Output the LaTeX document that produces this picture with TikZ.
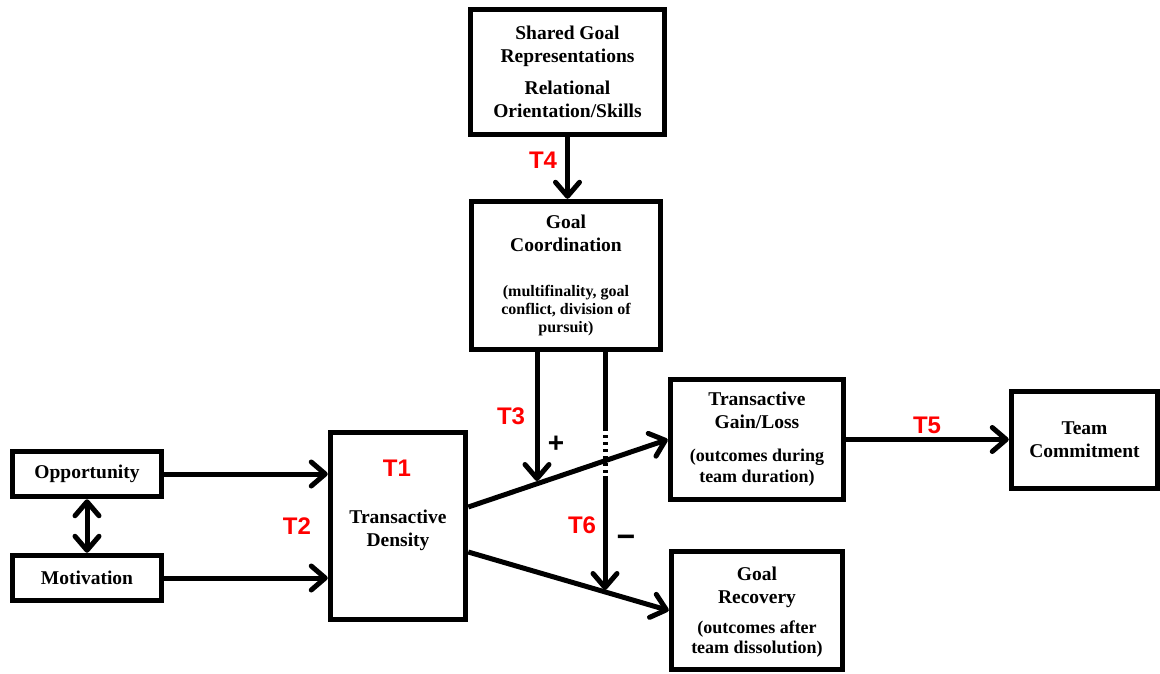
\documentclass[tikz,border=0pt]{standalone}
\usepackage{fontspec}
\setmainfont{Liberation Serif}
\newfontfamily\lblfont{Liberation Sans}
\usetikzlibrary{arrows.meta,calc}
\begin{document}
\begin{tikzpicture}[x=1pt,y=-1pt,
  box/.style={draw,line width=5.5pt,inner sep=0pt,align=center,
    font=\bfseries\fontsize{19.5}{23}\selectfont},
  tip/.tip={Straight Barb[length=14pt,width=24pt,line cap=round,line join=round]},
  conn/.style={line width=5pt,-tip},
  dconn/.style={line width=5pt,tip-tip},
  plain/.style={line width=5pt},
  tlbl/.style={text=red,inner sep=0pt,font=\lblfont\bfseries\fontsize{24}{24}\selectfont},
  sign/.style={inner sep=0pt,font=\lblfont\bfseries\fontsize{28}{28}\selectfont}]
\useasboundingbox (0,0) rectangle (1160,673);

\node[box,minimum width=194pt,minimum height=125pt] (sg) at (567.5,72)
  {Shared Goal\\Representations\\[9pt]Relational\\Orientation/Skills};
\node[box,minimum width=189pt,minimum height=148pt] (gc) at (566,275.5)
  {Goal\\Coordination\\[22pt]{\fontsize{16}{18}\selectfont (multifinality, goal}\\[-5pt]
   {\fontsize{16}{18}\selectfont conflict, division of}\\[-5pt]
   {\fontsize{16}{18}\selectfont pursuit)}};
\node[box,minimum width=149pt,minimum height=45pt] (opp) at (87,474) {Opportunity};
\node[box,minimum width=149pt,minimum height=45pt] (mot) at (87,578) {Motivation};
\node[box,minimum width=135pt,minimum height=187pt] (td) at (398,526)
  {\rule{0pt}{23pt}Transactive\\Density};
\node[box,minimum width=173pt,minimum height=120pt] (tgl) at (757,439.5)
  {Transactive\\Gain/Loss\\[10pt]{\fontsize{18}{21}\selectfont (outcomes during}\\[-2pt]
   {\fontsize{18}{21}\selectfont team duration)}};
\node[box,minimum width=146pt,minimum height=97pt] (tc) at (1084.5,440)
  {Team\\Commitment};
\node[box,minimum width=171pt,minimum height=118pt] (gr) at (757,610.5)
  {\rule{0pt}{17pt}Goal\\Recovery\\[7pt]{\fontsize{18}{21}\selectfont (outcomes after}\\[-3pt]
   {\fontsize{18}{21}\selectfont team dissolution)}};

% connectors
\draw[conn] (opp.east) -- (opp.east -| td.west);
\draw[conn] (mot.east) -- (mot.east -| td.west);
\draw[dconn] (opp.south) -- (mot.north);
\draw[conn] (sg.south) -- (sg.south |- gc.north);
\draw[conn] ([yshift=19pt]td.east) -- (tgl.west);
\draw[conn] ([yshift=-26pt]td.east) -- (gr.west);
\draw[conn] (tgl.east) -- (tgl.east -| tc.west);

\coordinate (c3) at (537,481);
\draw[conn] (c3 |- gc.south) -- (c3);

\coordinate (d1) at (605,428);
\coordinate (d2) at (605,476);
\coordinate (c6) at (605,590);
\draw[plain] (d1 |- gc.south) -- (d1);
\draw[plain,dash pattern=on 3pt off 4pt] (d1) -- (d2);
\draw[conn] (d2) -- (c6);

% labels
\node[tlbl] (t1) at (397,468) {T1};
\node[tlbl] (t2) at (297,526) {T2};
\node[tlbl] (t3) at (511,416) {T3};
\node[tlbl] (t4) at (543,160) {T4};
\node[tlbl] (t5) at (927,425) {T5};
\node[tlbl] (t6) at (582,525) {T6};
\node[sign] (plus) at (556,444) {+};
\node[sign,font=\lblfont\bfseries\fontsize{32}{32}\selectfont] (minus) at (626,541) {\char"2212};
\end{tikzpicture}
\end{document}
